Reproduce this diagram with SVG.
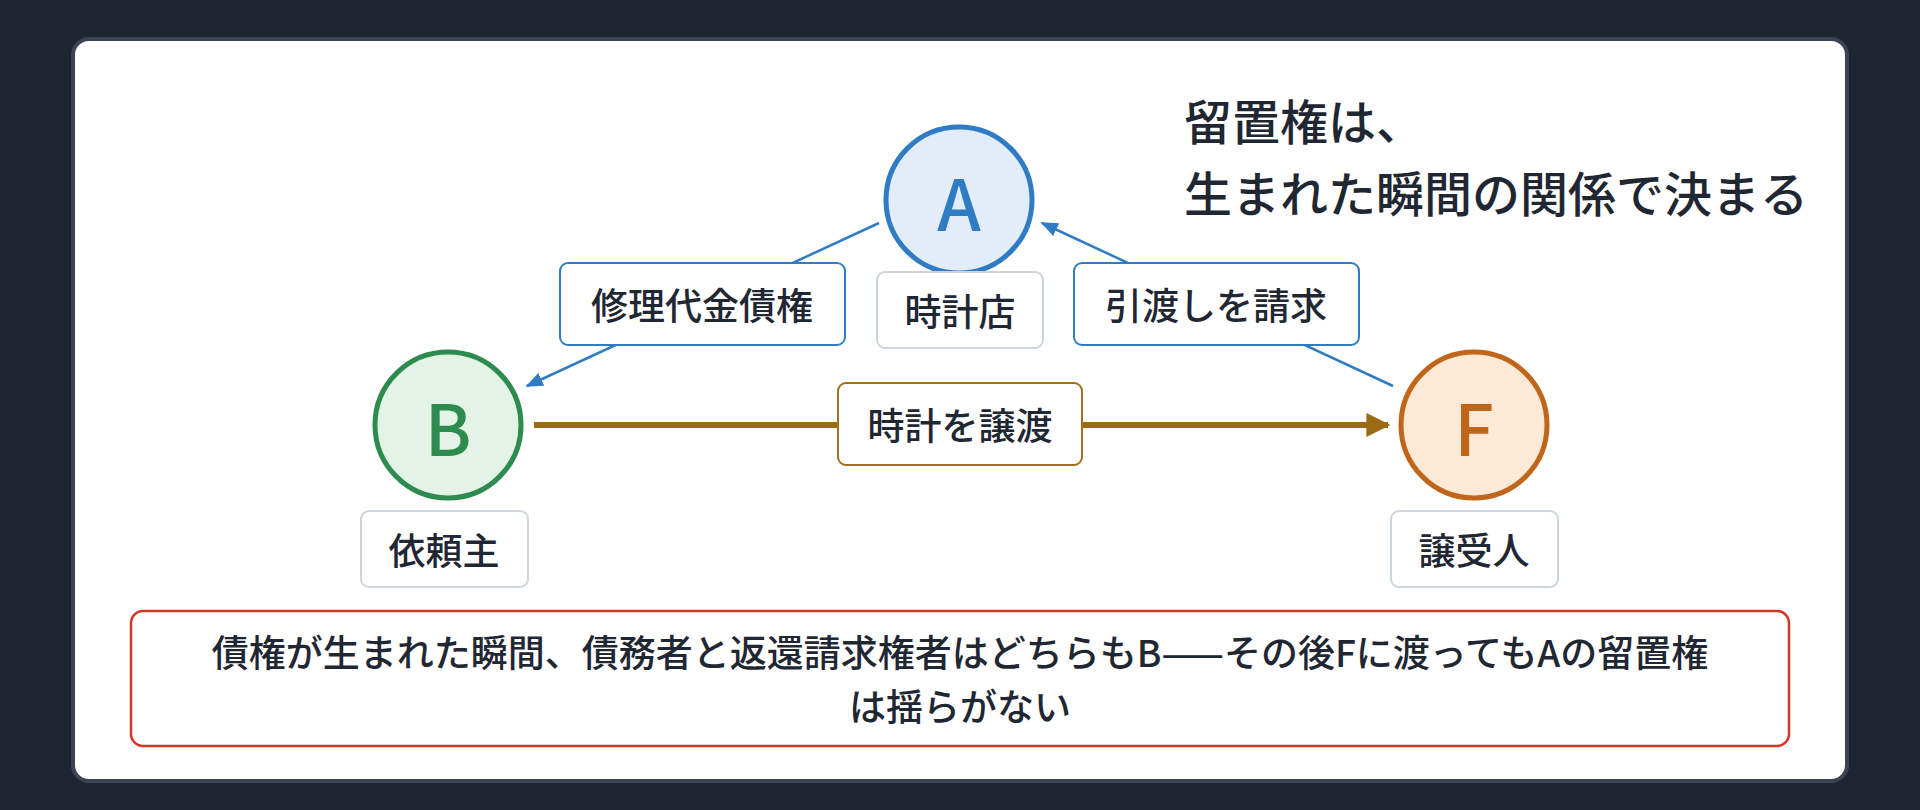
<svg xmlns="http://www.w3.org/2000/svg" width="1920" height="810" viewBox="0 0 1920 810">
<style>
text{font-family:"Noto Sans CJK JP","Liberation Sans",sans-serif;fill:#1f2733;font-weight:500}
.lbl{font-size:37px;text-anchor:middle;dominant-baseline:central}
.big{font-size:70px;text-anchor:middle;dominant-baseline:central;font-weight:500}
.gbox{fill:#fff;stroke:#cfd5dd;stroke-width:2}
</style>
<defs>
<marker id="ab" viewBox="0 0 10 10" refX="9" refY="5" markerWidth="7" markerHeight="7" orient="auto-start-reverse"><path d="M0,1 L10,5 L0,9 z" fill="#2f7cc4"/></marker>
<marker id="ao" viewBox="0 0 10 10" refX="9" refY="5" markerWidth="4" markerHeight="4" orient="auto"><path d="M0,0 L10,5 L0,10 z" fill="#9a6b12"/></marker>
</defs>
<rect width="1920" height="810" fill="#1e2530"/>
<rect x="73" y="39" width="1774" height="742" rx="16" fill="#fff" stroke="#3a4454" stroke-width="4"/>
<g id="connectors">
<line x1="879" y1="223" x2="527" y2="386" stroke="#2f7cc4" stroke-width="2.5" marker-end="url(#ab)"/>
<line x1="1393" y1="386" x2="1042" y2="223" stroke="#2f7cc4" stroke-width="2.5" marker-end="url(#ab)"/>
<line x1="534" y1="425" x2="1388" y2="425" stroke="#9a6b12" stroke-width="6" marker-end="url(#ao)"/>
<g id="l1"><rect x="560" y="263" width="285" height="82" rx="8" fill="#fff" stroke="#2f7cc4" stroke-width="2"/><text class="lbl" x="702" y="304">修理代金債権</text></g>
<g id="l2"><rect x="1074" y="263" width="285" height="82" rx="8" fill="#fff" stroke="#2f7cc4" stroke-width="2"/><text class="lbl" x="1216" y="304">引渡しを請求</text></g>
<g id="l3"><rect x="838" y="383" width="244" height="82" rx="8" fill="#fff" stroke="#a0701a" stroke-width="2"/><text class="lbl" x="960" y="424">時計を譲渡</text></g>
</g>
<g id="A"><circle cx="959" cy="200" r="73" fill="#e3edf9" stroke="#2f7cc4" stroke-width="5"/><text class="big" x="959" y="200" style="fill:#2f7cc4">A</text>
<rect class="gbox" x="877" y="272" width="166" height="76" rx="8"/><text class="lbl" x="960" y="310">時計店</text></g>
<g id="B"><circle cx="448" cy="425" r="73" fill="#e3f4e6" stroke="#2e8b4f" stroke-width="5"/><text class="big" x="448" y="425" style="fill:#2e8b4f">B</text>
<rect class="gbox" x="361" y="511" width="167" height="76" rx="8"/><text class="lbl" x="444" y="549">依頼主</text></g>
<g id="F"><circle cx="1474" cy="425" r="73" fill="#fde9d6" stroke="#c0661a" stroke-width="5"/><text class="big" x="1474" y="425" style="fill:#c0661a">F</text>
<rect class="gbox" x="1391" y="511" width="167" height="76" rx="8"/><text class="lbl" x="1474" y="549">譲受人</text></g>
<g id="title"><text x="1184" y="140" font-size="48">留置権は、</text><text x="1184" y="212" font-size="48">生まれた瞬間の関係で決まる</text></g>
<g id="note"><rect x="131" y="611" width="1658" height="135" rx="12" fill="#fff" stroke="#d0362b" stroke-width="2.5"/>
<text class="lbl" x="960" y="651">債権が生まれた瞬間、債務者と返還請求権者はどちらもB——その後Fに渡ってもAの留置権</text>
<text class="lbl" x="960" y="705">は揺らがない</text></g>
</svg>
